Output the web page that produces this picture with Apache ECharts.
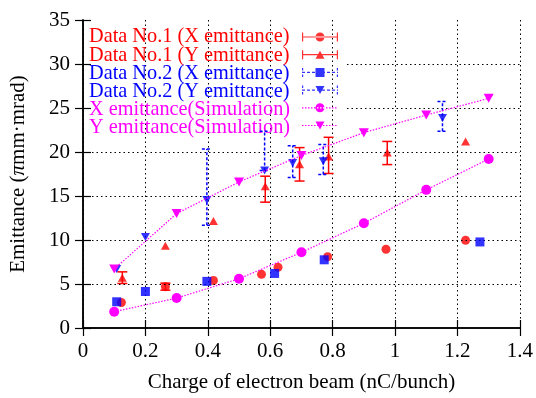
<!DOCTYPE html>
<html>
<head>
<meta charset="utf-8">
<script src="https://cdn.jsdelivr.net/npm/echarts@6/dist/echarts.min.js"></script>
<style>html,body{margin:0;padding:0;background:#fff}#c{width:536px;height:398px}</style>
</head>
<body>
<div id="c"></div>
<script>
// ---------- data ----------
const xTicks = [0, 0.2, 0.4, 0.6, 0.8, 1, 1.2, 1.4];
const yTicks = [0, 5, 10, 15, 20, 25, 30, 35];

const seriesNames = [
  'Data No.1 (X emittance)', 'Data No.1 (Y emittance)',
  'Data No.2 (X emittance)', 'Data No.2 (Y emittance)',
  'X emittance(Simulation)', 'Y emittance(Simulation)'
];

// Data No.1
const d1xCharge = [0.123, 0.264, 0.418, 0.572, 0.625, 0.784, 0.971, 1.226];
const d1xEmit   = [2.9, 4.7, 5.4, 6.1, 6.9, 8.1, 8.95, 9.97];
const d1xLow    = [null, 4.3, null, null, null, null, null, null];
const d1xHigh   = [null, 5.1, null, null, null, null, null, null];

const d1yCharge = [0.126, 0.264, 0.418, 0.584, 0.694, 0.787, 0.975, 1.226];
const d1yEmit   = [5.7, 9.35, 12.15, 16.1, 18.6, 19.5, 19.95, 21.2];
const d1yLow    = [5.06, null, null, 14.3, 16.7, 17.56, 18.57, null];
const d1yHigh   = [6.38, null, null, 17.25, 20.5, 21.67, 21.2, null];

// Data No.2
const d2xCharge = [0.108, 0.2, 0.397, 0.614, 0.773, 1.272];
const d2xEmit   = [2.98, 4.15, 5.3, 6.2, 7.75, 9.78];

const d2yCharge = [0.108, 0.2, 0.397, 0.582, 0.672, 0.77, 1.152];
const d2yEmit   = [6.7, 10.35, 14.55, 17.9, 18.75, 18.95, 23.86];
const d2yLow    = [null, null, 11.67, 17.9, 17.1, 17.44, 22.35];
const d2yHigh   = [null, null, 20.35, 22.35, 20.7, 20.84, 25.75];

// Simulation
const simCharge = [0.1, 0.3, 0.5, 0.7, 0.9, 1.1, 1.3];
const simXEmit  = [1.85, 3.4, 5.6, 8.6, 11.9, 15.7, 19.2];
const simYEmit  = [6.7, 13.0, 16.6, 19.6, 22.2, 24.2, 26.1];

// ---------- styling ----------
const RED = '#ff0000', BLUE = '#0000ff', MAG = '#ff00ff';
const FONT = "'Liberation Serif', 'Times New Roman', serif";

const zip = (a, b) => a.map((v, i) => [v, b[i]]);
const errData = (q, lo, hi) => q.map((v, i) => [v, lo[i], hi[i]]).filter(d => d[1] != null);

function errRender(color, dash) {
  return function (params, api) {
    const x = api.value(0), lo = api.value(1), hi = api.value(2);
    const p1 = api.coord([x, lo]), p2 = api.coord([x, hi]);
    const w = 5;
    const style = { stroke: color, lineWidth: 1.5, lineDash: dash || null, fill: null };
    return {
      type: 'group',
      children: [
        { type: 'line', shape: { x1: p1[0], y1: p1[1], x2: p2[0], y2: p2[1] }, style },
        { type: 'line', shape: { x1: p1[0] - w, y1: p1[1], x2: p1[0] + w, y2: p1[1] }, style },
        { type: 'line', shape: { x1: p2[0] - w, y1: p2[1], x2: p2[0] + w, y2: p2[1] }, style }
      ]
    };
  };
}

// legend sample icons (36 x 10 boxes)
const solidBar = 'M0,4.4H36V5.6H0Z M0,0.5H1.2V9.5H0Z M34.8,0.5H36V9.5H34.8Z ';
let dashBar = '';
for (let x = 0; x < 36; x += 5) dashBar += 'M' + x + ',4.4H' + Math.min(x + 3, 36) + 'V5.6H' + x + 'Z ';
dashBar += 'M0,0.5H1.2V3H0Z M0,7H1.2V9.5H0Z M34.8,0.5H36V3H34.8Z M34.8,7H36V9.5H34.8Z ';
let dotLine = 'M0,0.5H0.01V0.6H0Z M36,9.4H36.01V9.5H36Z ';
for (let x = 0; x < 36; x += 3) dotLine += 'M' + x + ',4.4H' + (x + 1.5) + 'V5.6H' + x + 'Z ';
const circ = 'M13.5,5a4.5,4.5 0 1,0 9,0a4.5,4.5 0 1,0 -9,0Z';
const triUp = 'M13.5,9L18,1L22.5,9Z';
const triDn = 'M13.5,1L22.5,1L18,9Z';
const sq = 'M13.5,0.5H22.5V9.5H13.5Z';
const icons = [
  'path://' + solidBar + circ,
  'path://' + solidBar + triUp,
  'path://' + dashBar + sq,
  'path://' + dashBar + triDn,
  'path://' + dotLine + circ,
  'path://' + dotLine + triDn
];
const legendColors = [RED, RED, BLUE, BLUE, MAG, MAG];

// horizontal grid lines (two top ones are hidden behind the key text)
const hGrid = [
  [0, 5], [0, 10], [0, 15], [0, 20], [0.846, 25], [0.846, 30]
].map(g => [{ coord: [g[0], g[1]] }, { coord: [1.4, g[1]] }]);

const chart = echarts.init(document.getElementById('c'), null, { renderer: 'canvas' });
const axisLine = { show: true, lineStyle: { color: '#000', width: 1.5 } };
const tick = { show: true, inside: true, length: 8, lineStyle: { color: '#000', width: 1.2 } };

chart.setOption({
  animation: false,
  backgroundColor: '#fff',
  textStyle: { fontFamily: FONT },
  grid: { left: 82, right: 14, top: 20, bottom: 69 },
  legend: [{
    // key texts
    orient: 'vertical', left: 84, top: 27, padding: 0, align: 'left',
    itemWidth: 0, itemHeight: 0, itemGap: -1.8, selectedMode: false,
    data: seriesNames.map((n, i) => ({
      name: n, icon: 'rect',
      itemStyle: { color: 'rgba(0,0,0,0)', borderWidth: 0 },
      textStyle: { color: legendColors[i], fontSize: 20.3, fontFamily: FONT }
    }))
  }, {
    // key samples
    orient: 'vertical', left: 302, top: 32, padding: 0, align: 'left',
    itemWidth: 36, itemHeight: 10, itemGap: 8.2, selectedMode: false,
    formatter: () => '',
    data: seriesNames.map((n, i) => ({
      name: n, icon: icons[i],
      itemStyle: { color: legendColors[i], borderWidth: 0 }
    }))
  }],
  xAxis: [{
    type: 'value', min: 0, max: 1.4, interval: 0.2,
    name: 'Charge of electron beam (nC/bunch)', nameLocation: 'middle', nameGap: 44,
    nameTextStyle: { fontSize: 21, color: '#000', fontFamily: FONT },
    axisLine, axisTick: tick,
    axisLabel: { fontSize: 21, color: '#000', margin: 13, fontFamily: FONT,
      formatter: v => String(xTicks.find(t => Math.abs(t - v) < 1e-9) ?? v) },
    splitLine: { show: true, lineStyle: { color: '#000', type: [1.5, 3], width: 1 } }
  }, {
    type: 'value', position: 'top', min: 0, max: 1.4, interval: 0.2,
    axisLine, axisTick: tick, axisLabel: { show: false }, splitLine: { show: false }
  }],
  yAxis: [{
    type: 'value', min: 0, max: 35, interval: 5,
    name: 'Emittance ({i|π}mm·mrad)', nameLocation: 'middle', nameGap: 54,
    nameTextStyle: { fontSize: 21, color: '#000', fontFamily: FONT,
      rich: { i: { fontSize: 21, fontStyle: 'italic', color: '#000', fontFamily: FONT } } },
    axisLine, axisTick: tick,
    axisLabel: { fontSize: 21, color: '#000', margin: 13, fontFamily: FONT,
      formatter: v => String(yTicks.find(t => Math.abs(t - v) < 1e-9) ?? v) },
    splitLine: { show: false }
  }, {
    type: 'value', position: 'right', min: 0, max: 35, interval: 5,
    axisLine, axisTick: tick, axisLabel: { show: false }, splitLine: { show: false }
  }],
  series: [
    { name: 'grid', type: 'scatter', data: [], silent: true,
      markLine: { silent: true, symbol: 'none', label: { show: false }, animation: false,
        lineStyle: { color: '#000', type: [1.5, 3], width: 1 }, data: hGrid } },
    { name: 'e1x', type: 'custom', renderItem: errRender(RED), data: errData(d1xCharge, d1xLow, d1xHigh), silent: true, z: 3 },
    { name: seriesNames[0], type: 'scatter', symbol: 'circle', symbolSize: 9,
      itemStyle: { color: RED }, data: zip(d1xCharge, d1xEmit), z: 4 },
    { name: 'e1y', type: 'custom', renderItem: errRender(RED), data: errData(d1yCharge, d1yLow, d1yHigh), silent: true, z: 3 },
    { name: seriesNames[1], type: 'scatter', symbol: 'triangle', symbolSize: [9, 8],
      itemStyle: { color: RED }, data: zip(d1yCharge, d1yEmit), z: 4 },
    { name: 'e2y', type: 'custom', renderItem: errRender(BLUE, [3, 2]), data: errData(d2yCharge, d2yLow, d2yHigh), silent: true, z: 5 },
    { name: seriesNames[2], type: 'scatter', symbol: 'rect', symbolSize: 9,
      itemStyle: { color: BLUE }, data: zip(d2xCharge, d2xEmit), z: 6 },
    { name: seriesNames[3], type: 'scatter', symbol: 'triangle', symbolRotate: 180, symbolSize: [9, 8],
      itemStyle: { color: BLUE }, data: zip(d2yCharge, d2yEmit), z: 6 },
    { name: seriesNames[4], type: 'line', symbol: 'circle', symbolSize: 10, showAllSymbol: true,
      itemStyle: { color: MAG }, lineStyle: { color: MAG, width: 1.2, type: [1.5, 1.5] },
      data: zip(simCharge, simXEmit), z: 7 },
    { name: seriesNames[5], type: 'line', symbol: 'triangle', symbolRotate: 180, symbolSize: [10, 9], showAllSymbol: true,
      itemStyle: { color: MAG }, lineStyle: { color: MAG, width: 1.2, type: [1.5, 1.5] },
      data: zip(simCharge, simYEmit), z: 7 }
  ]
});
</script>
</body>
</html>
